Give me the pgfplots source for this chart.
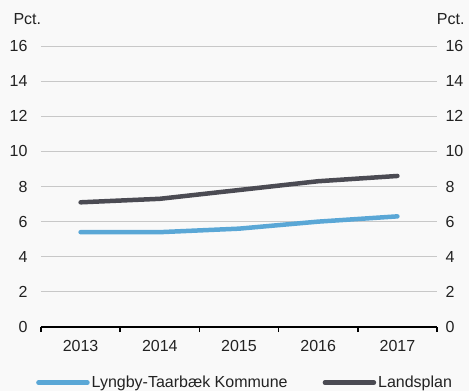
\documentclass[border=0pt]{standalone}
\usepackage{fontspec}
\setmainfont{Liberation Sans}
\usepackage{pgfplots}
\pgfplotsset{compat=1.18}
\usetikzlibrary{calc}
\pgfdeclarelayer{background}
\pgfsetlayers{background,main}
\definecolor{bgc}{HTML}{F9F9F9}
\definecolor{kommune}{HTML}{5AA7D6}
\definecolor{lands}{HTML}{4B4B53}
\definecolor{gridc}{HTML}{C8C8C8}
\definecolor{txt}{HTML}{222222}
\newcommand{\lblfont}{\fontsize{16}{19}\selectfont}
\pgfplotsset{
  base/.style={
    scale only axis, width=396pt, height=281pt,
    xmin=-0.5, xmax=4.5, ymin=0, ymax=16,
    ytick={0,2,...,16},
    major tick length=0pt,
    tick label style={font=\lblfont, text=txt},
    /pgf/number format/assume math mode=true,
  }
}
\begin{document}
\begin{tikzpicture}[font=\lblfont, text=txt]
\begin{axis}[base, name=ax,
  xtick={0,...,4}, xticklabels={2013,2014,2015,2016,2017},
  minor xtick={-0.5,0.5,...,4.5},
  axis lines*=left, axis line style={-},
  x axis line style={black, line width=1.5pt},
  y axis line style={draw=none},
  minor tick length=5pt, tick align=outside,
  minor tick style={black, line width=1.5pt},
  ymajorgrids, grid style={gridc, line width=0.8pt},
  yticklabel style={xshift=-10pt},
  xticklabel style={yshift=-10pt},
  legend columns=2,
  legend style={draw=none, fill=none, font=\lblfont, text=txt,
    at={(axis description cs:-0.0126,-0.198)}, anchor=west, inner sep=0pt,
    /tikz/every even column/.append style={column sep=33pt}},
  legend image code/.code={\draw[#1, line cap=round] (2.5pt,0pt) -- (51.5pt,0pt);},
]
\addplot[kommune, line width=4.5pt, line cap=round, line join=round]
  coordinates {(0,5.4) (1,5.4) (2,5.6) (3,6.0) (4,6.3)};
\addlegendentry{Lyngby-Taarbæk Kommune}
\addplot[lands, line width=4.5pt, line cap=round, line join=round]
  coordinates {(0,7.1) (1,7.3) (2,7.8) (3,8.3) (4,8.6)};
\addlegendentry{Landsplan}
\end{axis}
\begin{axis}[base, hide x axis, axis y line*=right, y axis line style={draw=none},
  yticklabel style={xshift=5pt}]
\end{axis}
\node[anchor=base west] at ($(ax.north west)+(-31pt,21pt)$) {Pct.};
\node[anchor=base east] at ($(ax.north east)+(31pt,21pt)$) {Pct.};
\begin{pgfonlayer}{background}
\fill[bgc] ($(ax.south west)+(-41pt,-64pt)$) rectangle ($(ax.north east)+(32pt,46pt)$);
\end{pgfonlayer}
\pgfresetboundingbox
\path[use as bounding box] ($(ax.south west)+(-41pt,-64pt)$) rectangle ($(ax.north east)+(32pt,46pt)$);
\end{tikzpicture}
\end{document}
